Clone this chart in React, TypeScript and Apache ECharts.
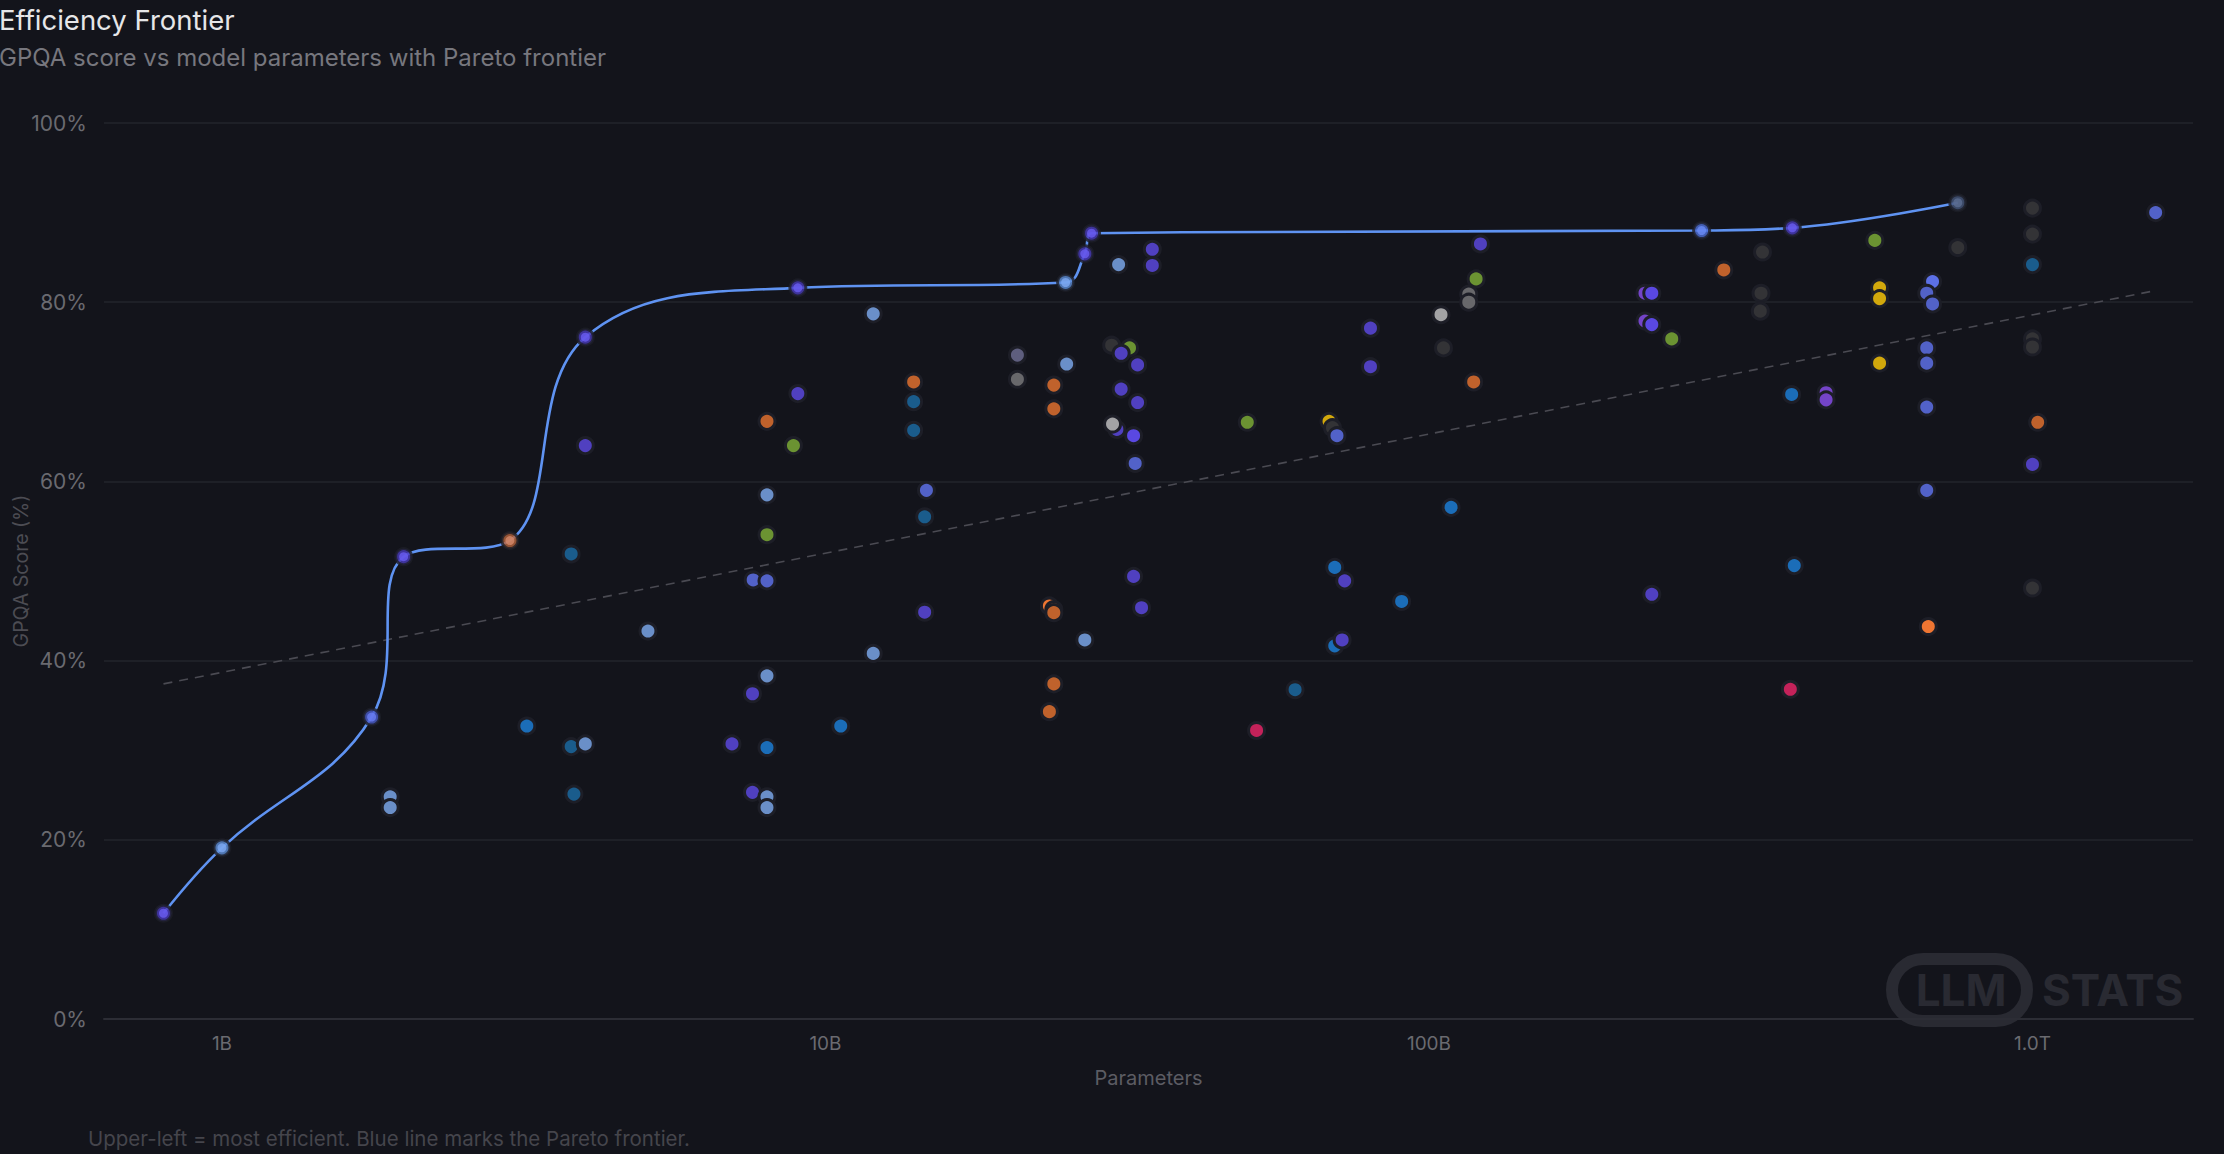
import React, { useEffect, useRef } from "react";
import * as echarts from "echarts";

// ---------- DATA ----------
// Non-frontier models: parameters (billions), GPQA score (%), organisation colour key
const pointParamsB = [
  4, 8, 8.85, 8, 8, 3.79, 7.59, 8, 5.08, 8, 7.57, 3.2, 3.79, 4, 7, 8, 1.9, 1.9, 3.83, 7.57, 8, 8, 9,
  30.6, 34.8, 34.8, 12, 80, 80, 20.8, 20.8, 25.1, 23.9, 23.9, 29.8, 31.9, 30.9, 32.9, 30.9, 32.9, 30.4, 29.9, 32.4, 32.6,
  14, 14, 14, 14.7, 14.6, 32.4, 33.4, 14.6, 23.5, 23.9, 23.9, 26.9, 12, 10.6, 23.9, 23.5,
  50, 68.3, 69.2, 70.4, 69.8, 72.5, 90.1, 69.8, 71.8, 60, 51.8,
  121.7, 119.7, 116.4, 116.4, 104.7, 105.7, 118.6, 108.8,
  234, 228, 234, 228, 234, 252.5, 308, 357, 355, 354, 399, 455, 455, 403, 397,
  548, 558, 558, 558, 683, 668, 683, 668, 668, 668, 668, 672, 752,
  1000, 1000, 1000, 1000, 1000, 1020, 1000, 1000, 1600,
];
const pointScores = [
  64.0, 66.7, 64.0, 58.5, 54.05, 51.9, 49.0, 48.9, 43.3, 38.3, 36.3, 32.7, 30.4, 30.7, 30.7, 30.3, 24.8, 23.6, 25.1, 25.3, 24.8, 23.6, 69.8,
  84.2, 85.9, 84.1, 78.7, 77.1, 72.8, 74.1, 71.4, 73.1, 70.75, 68.1, 75.2, 74.9, 74.3, 73.0, 70.3, 68.8, 65.8, 66.4, 65.1, 62.0,
  71.1, 68.9, 65.7, 59.0, 56.05, 49.4, 45.9, 45.4, 46.1, 45.7, 45.35, 42.3, 40.8, 32.7, 37.4, 34.3,
  66.6, 66.7, 66.0, 65.1, 50.4, 48.9, 46.6, 41.65, 42.3, 36.75, 32.2,
  86.5, 82.6, 80.9, 80.0, 78.6, 74.9, 71.1, 57.1,
  47.4, 81.0, 81.0, 77.9, 77.5, 75.9, 83.6, 85.6, 81.0, 79.0, 69.7, 69.9, 69.1, 50.6, 36.8,
  86.9, 81.6, 80.4, 73.2, 82.3, 81.0, 79.8, 74.9, 73.2, 68.3, 59.0, 43.8, 86.1,
  90.5, 87.6, 84.2, 75.9, 75.0, 66.6, 61.9, 48.1, 90.0,
];
const pointGroups = [
  "P", "O", "G", "LB", "G", "DT", "I", "I", "LB", "LB", "P", "B", "DT", "LB", "P", "B", "LB", "LB", "DT", "P", "LB", "LB", "P",
  "LB", "P", "P", "LB", "P", "P", "GB", "GR", "LB", "O", "O", "DG", "G", "P", "P", "P", "P", "P", "LG", "BP", "I",
  "O", "DT", "DT", "I", "DT", "P", "P", "P", "BO", "O", "O", "LB", "LB", "B", "O", "O",
  "G", "Y", "DG", "I", "B", "P", "B", "B", "P", "DT", "C",
  "P", "G", "GR", "GR", "LG", "DG", "O", "B",
  "P", "V", "BP", "V", "BP", "G", "O", "DG", "DG", "DG", "B", "V", "V", "B", "C",
  "G", "Y", "Y", "Y", "IB", "I", "I", "I", "I", "I", "I", "BO", "DG",
  "DG", "DG", "DT", "DG", "DG", "O", "P", "DG", "I",
];

// Pareto frontier models
const frontierParamsB = [0.8, 1.0, 1.77, 2.0, 3.0, 4.0, 9.0, 25.0, 26.9, 27.6, 283, 400, 752];
const frontierScores = [11.8, 19.1, 33.7, 51.6, 53.4, 76.1, 81.6, 82.2, 85.4, 87.7, 88.0, 88.3, 91.1];
const frontierGroups = ["P", "LB", "I", "P", "S", "P", "P", "LB", "P", "P", "IB", "P", "GB"];

// Trend (regression) line end points
const trendParamsB = [0.8, 1600];
const trendScores = [37.4, 81.3];

const yTicks = [0, 20, 40, 60, 80, 100];

// ---------- STYLE ----------
const palette: Record<string, string> = {
  P: "#5040c0",
  I: "#5262c8",
  IB: "#5c70e6",
  LB: "#6a8fc8",
  DT: "#1a5c8c",
  B: "#1b6db8",
  O: "#c0622c",
  BO: "#ee7532",
  G: "#6b9332",
  GR: "#68686b",
  LG: "#a3a3a5",
  DG: "#333336",
  Y: "#d2a80c",
  C: "#c4225a",
  V: "#7444c8",
  BP: "#5a48e2",
  GB: "#5e5e7e",
};
const frontierPalette: Record<string, [string, string]> = {
  P: ["#4a3bbb", "#6a5cf2"],
  LB: ["#5f8ed8", "#7eaaf2"],
  I: ["#4b5ccc", "#6a7ef4"],
  S: ["#b5633c", "#d48a6c"],
  IB: ["#4f6fd8", "#6a8cf6"],
  GB: ["#46567a", "#5d6e92"],
};

const BG = "#13141b";
const FONT = "Inter, Roboto, sans-serif";

function fmtParams(v: number) {
  if (v >= 1e12) return (v / 1e12).toFixed(1) + "T";
  return Math.round(v / 1e9) + "B";
}

export default function App() {
  const ref = useRef<HTMLDivElement>(null);

  useEffect(() => {
    if (!ref.current) return;
    const chart = echarts.init(ref.current, null, { renderer: "svg" });

    const scatterData = pointParamsB.map((p, i) => ({
      value: [p * 1e9, pointScores[i]],
      itemStyle: { color: palette[pointGroups[i]] },
    }));
    const frontierLine = frontierParamsB.map((p, i) => [p * 1e9, frontierScores[i]]);
    const frontierOuter = frontierParamsB.map((p, i) => ({
      value: [p * 1e9, frontierScores[i]],
      itemStyle: { color: frontierPalette[frontierGroups[i]][0] },
    }));
    const frontierInner = frontierParamsB.map((p, i) => ({
      value: [p * 1e9, frontierScores[i]],
      itemStyle: { color: frontierPalette[frontierGroups[i]][1] },
    }));
    const trendData = trendParamsB.map((p, i) => [p * 1e9, trendScores[i]]);

    const option: any = {
      animation: false,
      backgroundColor: BG,
      textStyle: { fontFamily: FONT },
      title: {
        text: "Efficiency Frontier",
        subtext: "GPQA score vs model parameters with Pareto frontier",
        left: -1,
        top: 6,
        itemGap: 11,
        padding: 0,
        textStyle: { color: "#e6e6e8", fontSize: 27.5, fontWeight: 400, fontFamily: FONT },
        subtextStyle: { color: "#77777e", fontSize: 24, fontFamily: FONT },
      },
      grid: {
        left: 104,
        right: 31,
        top: 123,
        bottom: 135,
        containLabel: false,
        outerBoundsMode: "none",
      },
      xAxis: {
        type: "log",
        logBase: 10,
        min: 6.376e8,
        max: 1.845e12,
        name: "Parameters",
        nameLocation: "middle",
        nameGap: 49,
        nameMoveOverlap: false,
        nameTextStyle: { color: "#5c5c63", fontSize: 20, fontFamily: FONT },
        axisLine: { show: true, lineStyle: { color: "#2c2d35", width: 2 } },
        axisTick: { show: false },
        splitLine: { show: false },
        axisLabel: {
          color: "#6a6a70",
          fontSize: 19,
          margin: 15,
          showMinLabel: false,
          showMaxLabel: false,
          formatter: (v: number) => fmtParams(v),
        },
      },
      yAxis: {
        type: "value",
        min: yTicks[0],
        max: yTicks[yTicks.length - 1],
        interval: yTicks[1] - yTicks[0],
        name: "GPQA Score (%)",
        nameLocation: "middle",
        nameGap: 73,
        nameMoveOverlap: false,
        nameTextStyle: { color: "#4c4c53", fontSize: 19.5, fontFamily: FONT },
        axisLine: { show: false },
        axisTick: { show: false },
        splitLine: { lineStyle: { color: "#23242c", width: 1.5 } },
        axisLabel: {
          color: "#6a6a70",
          fontSize: 21,
          margin: 17,
          formatter: (v: number) => v + "%",
        },
      },
      series: [
        {
          type: "line",
          data: trendData,
          symbol: "none",
          silent: true,
          z: 1,
          lineStyle: { color: "#4a4a52", width: 1.6, type: [9, 7] },
        },
        {
          type: "line",
          data: frontierLine,
          symbol: "none",
          smooth: 0.4,
          silent: true,
          z: 2,
          lineStyle: { color: "#5f93f2", width: 2.6 },
        },
        {
          type: "scatter",
          data: scatterData,
          symbolSize: 16,
          z: 3,
          itemStyle: { borderColor: "#1d1e27", borderWidth: 3, opacity: 1 },
        },
        {
          type: "scatter",
          data: frontierOuter,
          symbolSize: 16,
          z: 4,
          itemStyle: { borderColor: "#1d1e27", borderWidth: 3 },
        },
        {
          type: "scatter",
          data: frontierInner,
          symbolSize: 9,
          z: 5,
          itemStyle: { borderWidth: 0 },
        },
      ],
      graphic: [
        {
          type: "text",
          left: 88,
          top: 1128,
          style: {
            text: "Upper-left = most efficient. Blue line marks the Pareto frontier.",
            fill: "#45454c",
            fontSize: 20.5,
            fontFamily: FONT,
          },
        },
        {
          type: "group",
          left: 1886,
          top: 953,
          silent: true,
          children: [
            {
              type: "rect",
              shape: { x: 6, y: 6, width: 135, height: 62, r: 31 },
              style: { fill: "none", stroke: "#292a32", lineWidth: 12 },
            },
            {
              type: "text",
              x: 75,
              y: 37,
              style: {
                text: "LLM",
                fill: "#292a32",
                fontSize: 44,
                fontWeight: "bold",
                fontFamily: FONT,
                align: "center",
                verticalAlign: "middle",
              },
            },
            {
              type: "text",
              x: 156,
              y: 37,
              style: {
                text: "STATS",
                fill: "#292a32",
                fontSize: 44,
                fontWeight: "bold",
                fontFamily: FONT,
                align: "left",
                verticalAlign: "middle",
              },
            },
          ],
        },
      ],
    };

    chart.setOption(option);
    return () => chart.dispose();
  }, []);

  return (
    <div
      ref={ref}
      style={{ position: "fixed", left: 0, top: 0, width: 2224, height: 1154, background: BG }}
    />
  );
}
